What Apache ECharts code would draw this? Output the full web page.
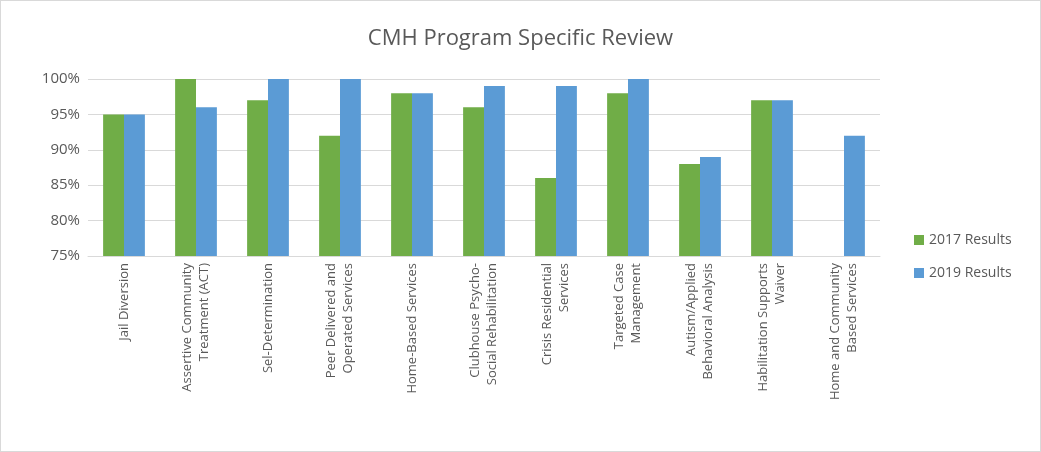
<!DOCTYPE html>
<html>
<head>
<meta charset="utf-8">
<script src="https://cdn.jsdelivr.net/npm/echarts@6/dist/echarts.min.js"></script>
<style>
html, body { margin: 0; padding: 0; background: #fff; }
#chart { width: 1039px; height: 450px; border: 1px solid #d9d9d9; }
</style>
</head>
<body>
<div id="chart"></div>
<script>
const categories = [
	"Jail Diversion",
	"Assertive Community\nTreatment (ACT)",
	"Sel-Determination",
	"Peer Delivered and\nOperated Services",
	"Home-Based Services",
	"Clubhouse Psycho-\nSocial Rehabilitation",
	"Crisis Residential\nServices",
	"Targeted Case\nManagement",
	"Autism/Applied\nBehavioral Analysis",
	"Habilitation Supports\nWaiver",
	"Home and Community\nBased Services"
];
const results2017 = [0.95, 1.00, 0.97, 0.92, 0.98, 0.96, 0.86, 0.98, 0.88, 0.97, null];
const results2019 = [0.95, 0.96, 1.00, 1.00, 0.98, 0.99, 0.99, 1.00, 0.89, 0.97, 0.92];

const chart = echarts.init(document.getElementById("chart"));
const font = "'Open Sans', sans-serif";

chart.setOption({
	animation: false,
	title: {
		text: "CMH Program Specific Review",
		left: "center",
		top: 22,
		textStyle: { fontFamily: font, fontSize: 22, fontWeight: "normal", color: "#595959" }
	},
	legend: {
		orient: "vertical",
		left: 908,
		top: 227,
		itemGap: 19,
		itemWidth: 10,
		itemHeight: 10,
		icon: "rect",
		textStyle: { fontFamily: font, fontSize: 14, color: "#595959" },
		data: ["2017 Results", "2019 Results"]
	},
	grid: { left: 87, right: 160, top: 78, bottom: 195 },
	xAxis: {
		type: "category",
		data: categories,
		axisTick: { show: false },
		axisLine: { lineStyle: { color: "#d9d9d9" } },
		axisLabel: {
			rotate: 90,
			interval: 0,
			margin: 7,
			fontFamily: font,
			fontSize: 13,
			lineHeight: 17,
			color: "#595959"
		}
	},
	yAxis: {
		type: "value",
		min: 0.75,
		max: 1.0,
		interval: 0.05,
		axisLine: { show: false },
		axisTick: { show: false },
		splitLine: { lineStyle: { color: "#d9d9d9" } },
		axisLabel: {
			fontFamily: font,
			fontSize: 15,
			color: "#595959",
			formatter: v => Math.round(v * 100) + "%"
		}
	},
	series: [{
		name: "2017 Results",
		type: "bar",
		data: results2017,
		barGap: "0%",
		barCategoryGap: "42%",
		itemStyle: { color: "#70ad47" }
	}, {
		name: "2019 Results",
		type: "bar",
		data: results2019,
		itemStyle: { color: "#5b9bd5" }
	}]
});
window.onresize = chart.resize;
</script>
</body>
</html>
